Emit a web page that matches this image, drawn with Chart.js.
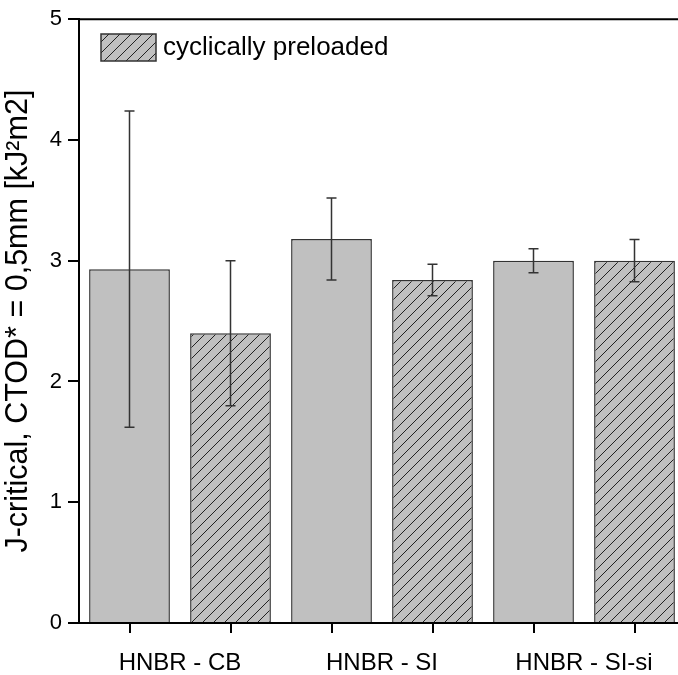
<!DOCTYPE html>
<html lang="en">
<head>
  <meta charset="UTF-8" />
  <title>J-critical</title>
  <script src="https://cdn.jsdelivr.net/npm/chart.js@4.4.0/dist/chart.umd.min.js"></script>
  <style>
    html, body { margin: 0; padding: 0; background: #fff; overflow: hidden; }
    canvas { display: block; }
  </style>
</head>
<body>
  <canvas id="chart" width="700" height="675"></canvas>
  <script>
    // group labels under the axis, one slot per bar
    const groups = ['HNBR - CB', 'HNBR - SI', 'HNBR - SI-si'];
    const slots = ['CB', 'CB cp', 'SI', 'SI cp', 'SI-si', 'SI-si cp'];
    const yTicks = [0, 1, 2, 3, 4, 5];

    const plain = [2.93, null, 3.18, null, 3.00, null];
    const plainErr = [1.31, null, 0.34, null, 0.10, null];
    const preloaded = [null, 2.40, null, 2.84, null, 3.00];
    const preloadedErr = [null, 0.60, null, 0.13, null, 0.175];

    const FONT = 'Liberation Sans, Arial, sans-serif';

    function hatch() {
      const c = document.createElement('canvas');
      c.width = 11; c.height = 11;
      const g = c.getContext('2d');
      g.fillStyle = '#c0c0c0';
      g.fillRect(0, 0, 11, 11);
      g.strokeStyle = '#222';
      g.lineWidth = 1;
      g.beginPath();
      g.moveTo(-1, 12); g.lineTo(12, -1);
      g.moveTo(-6, 6); g.lineTo(6, -6);
      g.moveTo(5, 17); g.lineTo(17, 5);
      g.stroke();
      return g.createPattern(c, 'repeat');
    }
    const hatchFill = hatch();

    const errorBars = {
      id: 'errorBars',
      afterDatasetsDraw(chart) {
        const ctx = chart.ctx;
        const y = chart.scales.y;
        ctx.save();
        ctx.strokeStyle = '#333';
        ctx.lineWidth = 1.5;
        chart.data.datasets.forEach((ds, i) => {
          chart.getDatasetMeta(i).data.forEach((bar, j) => {
            const v = ds.data[j], e = ds.err[j];
            if (v == null || e == null) return;
            const top = y.getPixelForValue(v + e);
            const bot = y.getPixelForValue(v - e);
            ctx.beginPath();
            ctx.moveTo(bar.x, top); ctx.lineTo(bar.x, bot);
            ctx.moveTo(bar.x - 5, top); ctx.lineTo(bar.x + 5, top);
            ctx.moveTo(bar.x - 5, bot); ctx.lineTo(bar.x + 5, bot);
            ctx.stroke();
          });
        });
        ctx.restore();
      }
    };

    // closing lines on top and right, plus the in-plot legend
    const frameAndLegend = {
      id: 'frameAndLegend',
      afterDraw(chart) {
        const ctx = chart.ctx;
        const a = chart.chartArea;
        ctx.save();
        ctx.strokeStyle = '#000';
        ctx.lineWidth = 2;
        ctx.beginPath();
        ctx.moveTo(a.left - 1, a.top); ctx.lineTo(a.right, a.top); ctx.lineTo(a.right, a.bottom);
        ctx.stroke();

        const ds = chart.data.datasets[1];
        ctx.fillStyle = ds.backgroundColor;
        ctx.fillRect(101, 34, 55, 27);
        ctx.strokeStyle = '#333';
        ctx.lineWidth = 1.5;
        ctx.strokeRect(101, 34, 55, 27);
        ctx.fillStyle = '#000';
        ctx.font = '26px ' + FONT;
        ctx.textBaseline = 'middle';
        ctx.fillText(ds.label, 163, 48);
        ctx.restore();
      }
    };

    new Chart(document.getElementById('chart'), {
      type: 'bar',
      data: {
        labels: slots,
        datasets: [
          { label: 'as received', data: plain, err: plainErr,
            backgroundColor: '#c0c0c0', borderColor: '#333', borderWidth: 1.5,
            grouped: false, barPercentage: 0.8, categoryPercentage: 1 },
          { label: 'cyclically preloaded', data: preloaded, err: preloadedErr,
            backgroundColor: hatchFill, borderColor: '#333', borderWidth: 1.5,
            grouped: false, barPercentage: 0.8, categoryPercentage: 1 }
        ]
      },
      options: {
        responsive: false,
        animation: false,
        devicePixelRatio: 1,
        layout: { padding: { top: 17, right: 15, left: 0, bottom: 0 } },
        plugins: { legend: { display: false }, tooltip: { enabled: false } },
        scales: {
          x: {
            type: 'category', labels: slots, offset: true, weight: 0,
            grid: { drawOnChartArea: false, offset: false, tickLength: 10, color: '#000', lineWidth: 2 },
            border: { color: '#000', width: 2 },
            ticks: { display: false },
            afterFit(s) { s.height = 10; }
          },
          x2: {
            type: 'category', labels: groups, position: 'bottom', offset: true, weight: 1,
            grid: { display: false }, border: { display: false },
            ticks: { color: '#000', font: { family: FONT, size: 24 }, padding: 8, maxRotation: 0, autoSkip: false },
            afterFit(s) { s.height = 42; }
          },
          y: {
            min: 0, max: 5,
            afterBuildTicks(s) { s.ticks = yTicks.map(v => ({ value: v })); },
            grid: { drawOnChartArea: false, tickLength: 11, color: '#000', lineWidth: 2 },
            border: { color: '#000', width: 2 },
            ticks: { color: '#000', font: { family: FONT, size: 22 }, padding: 6 },
            title: { display: true, text: 'J-critical, CTOD* = 0,5mm [kJ²m2]', color: '#000',
                     font: { family: FONT, size: 30.5 }, padding: { top: 0, bottom: 0 } },
            afterFit(s) { s.width = 79; }
          }
        }
      },
      plugins: [errorBars, frameAndLegend]
    });
  </script>
</body>
</html>
